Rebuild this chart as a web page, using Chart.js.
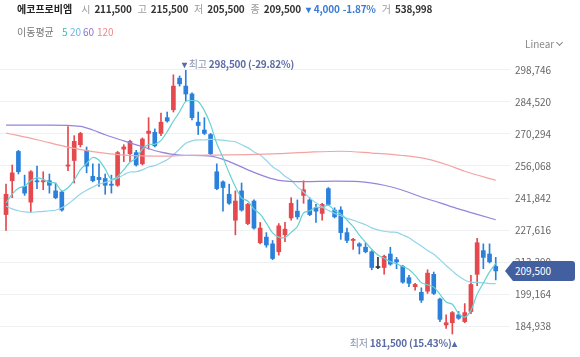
<!DOCTYPE html>
<html><head><meta charset="utf-8">
<script src="https://cdn.jsdelivr.net/npm/chart.js@4.4.0/dist/chart.umd.min.js"></script>
<style>
html,body{margin:0;padding:0;background:#fff;}
#wrap{position:relative;width:580px;height:357px;overflow:hidden;font-family:"Noto Sans CJK KR","Noto Sans",sans-serif;}
#c{position:absolute;left:0;top:0;}
.row{position:absolute;display:flex;white-space:nowrap;font-size:10px;line-height:14px;}
.t{position:absolute;white-space:nowrap;font-size:10px;line-height:14px;}
.g{color:#9a9a9a;margin-left:6px;margin-right:4px;}
.v{color:#333;font-weight:700;letter-spacing:-0.2px;}
.b{color:#3a7bd5;font-weight:700;letter-spacing:-0.2px;}
#tag{position:absolute;left:505px;width:70px;height:20px;background:#42609f;color:#fff;font-size:10px;line-height:20px;box-sizing:border-box;padding-left:10px;clip-path:polygon(0 50%,8px 0,100% 0,100% 100%,8px 100%);border-radius:0 3px 3px 0;}
.ann{position:absolute;white-space:nowrap;font-size:10px;line-height:14px;color:#5a6ba6;font-weight:700;letter-spacing:-0.2px;}
.ann .k{color:#8a93ad;font-weight:400;}
#chev{position:absolute;left:557px;top:40px;width:4px;height:4px;border-right:1px solid #888;border-bottom:1px solid #888;transform:rotate(45deg);}
</style></head>
<body>
<div id="wrap">
<canvas id="c" width="580" height="357"></canvas>
<div class="row" style="left:17px;top:2px">
<span style="color:#222;font-weight:700;margin-right:3px">에코프로비엠</span>
<span class="g">시</span><span class="v">211,500</span>
<span class="g">고</span><span class="v">215,500</span>
<span class="g">저</span><span class="v">205,500</span>
<span class="g">종</span><span class="v">209,500</span>
<span class="b" style="margin-left:5px;margin-right:3px">▾</span><span class="b">4,000</span><span class="b" style="margin-left:3px">-1.87%</span>
<span class="g">거</span><span class="v">538,998</span>
</div>
<span class="t" style="left:17px;top:25px;color:#777">이동평균</span>
<span class="t" style="left:62px;top:25px;color:#3fbfb5">5</span>
<span class="t" style="left:70px;top:25px;color:#6cb8e4">20</span>
<span class="t" style="left:83px;top:25px;color:#8a72d4">60</span>
<span class="t" style="left:97px;top:25px;color:#e98a8a">120</span>
<span class="t" style="left:525px;top:37px;color:#888">Linear</span><span id="chev"></span>
<div id="hi" class="ann">▾ <span class="k">최고</span> 298,500 (-29.82%)</div>
<div id="lo" class="ann"><span class="k">최저</span> 181,500 (15.43%)▴</div>
<div id="tag">209,500</div>
</div>
<script>
const opens  = [234500,249500,262500,247000,240000,249500,249000,249500,245000,244500,256000,258500,265500,263000,251500,251000,250500,248000,247500,263500,261500,262000,257000,270500,271000,270500,277500,281000,295000,291500,288000,275500,272000,270000,253500,249000,243500,232000,245000,230500,240500,222000,224500,221500,218000,225500,233000,236000,243000,241000,237500,235000,246000,236500,236500,226500,223000,221500,220000,218000,211000,211000,217000,214500,211500,206500,202500,200000,200500,208000,197000,185500,186500,190000,187000,191500,208000,218500,217000,211500];
const highs  = [248000,256500,263000,252000,254000,256000,253500,252500,248500,245000,273500,269500,271000,264500,257000,257000,252500,252000,262500,265500,267500,263000,268500,277500,272500,279500,280000,296500,296000,298500,288500,280000,277500,270500,257000,249500,248000,245000,248500,239500,241000,231000,226500,223000,230500,231000,242000,241000,249500,242000,239000,239500,246500,237500,238000,228500,224000,222000,222000,218500,215500,216500,220000,215500,212000,207500,204000,202000,210000,209000,197500,190000,191500,191500,195000,207500,224000,221500,221500,215500];
const lows   = [227500,242000,252500,243000,235500,246000,245500,244000,241500,236000,254000,248500,264500,253000,249000,247000,243500,244000,247000,258000,258000,256000,256500,263500,264500,269500,275500,280000,291500,285000,276500,270000,270000,261000,245500,236000,239000,225500,236000,230000,228000,221500,220000,214500,216500,222500,232000,232500,239500,234000,231000,232000,238500,233000,223500,222000,219000,217000,217500,210000,210500,208000,212000,210500,204000,202500,201000,195500,199500,199000,187000,184000,181500,188000,186500,190500,203000,210500,213000,205500];
const closes = [243500,253000,253500,244000,253500,249000,249500,247500,242000,236500,256500,267000,270500,256000,249500,250000,247500,247500,262000,264500,267000,256500,268000,271500,265000,275500,276000,291500,292500,288000,277500,274000,270500,261500,246000,246500,239500,240500,236500,239000,228500,228500,221000,215000,229500,228000,239500,233500,245500,234500,236000,239000,239000,233500,226500,223000,223500,220500,218000,211000,211000,216000,212500,213500,204500,204000,203500,196500,208500,199500,188000,186500,191000,188500,191000,203500,222000,215500,213500,209500];
const ma5  = [239700,243600,246200,247100,249600,250800,250100,248800,248400,245000,246400,249800,254400,257200,259800,258600,254700,250200,251400,254400,257700,259500,263600,265600,265700,267400,271300,275900,280100,284700,285100,284700,280600,274400,266000,259800,252900,246800,241800,240500,236900,234700,230700,226400,224500,224300,226600,229200,235200,236200,237800,237600,238700,236300,234800,232100,229100,225400,222200,219100,216600,215100,213600,212700,211500,210100,207500,204300,203300,202300,199100,195700,194700,190600,189000,192000,199200,204100,209100,212800];
const ma20 = [238300,237000,236200,235700,235500,235700,235900,236200,236400,237500,239200,241400,243600,245300,246700,248000,248800,249700,250600,252200,253400,253500,254300,255600,256200,257500,258800,261000,263600,266100,267200,267600,267600,267900,267700,267500,267100,266800,265500,264200,262300,260900,258500,255700,253900,251500,249700,246800,244500,241800,239700,237900,236400,235000,234000,232800,232000,231000,230000,228600,227700,227100,226700,226600,225400,224200,222300,220500,218600,216900,214500,211900,209500,207200,205500,204500,204400,204200,203900,203900];
const ma60Idx = [0,7,12,14,16,19,22,25,28,33,36,40,44,48,53,57,61,64,67,70,73,76,79];
const ma60 = [274200,274200,273600,272000,269900,267200,264600,262200,260900,260400,258000,253200,249700,249100,249300,249100,247500,245300,242300,239700,237000,234600,232200];
const ma120Idx = [0,5,10,14,19,24,29,34,39,44,49,54,59,64,68,71,74,79];
const ma120 = [270700,267700,264400,262400,260900,260400,260700,260900,261100,261500,262200,262600,261800,260700,259100,256700,253700,249700];
const yTicks = [184938,199164,213390,227616,241842,256068,270294,284520,298746];
const HIGH_IDX = 29, HIGH_VAL = 298500, LOW_IDX = 72, LOW_VAL = 181500, LAST_VAL = 209500;

const UP = '#e5484d', DOWN = '#2b80dc', FLAT = '#333333';
const candleColor = closes.map((c, i) => c > opens[i] ? UP : (c < opens[i] ? DOWN : FLAT));
const idx = closes.map((_, i) => i);

Chart.defaults.font.family = "'Noto Sans CJK KR','Noto Sans',sans-serif";
Chart.defaults.font.size = 10;
Chart.defaults.color = '#666';

const chart = new Chart(document.getElementById('c'), {
  type: 'bar',
  data: {
    datasets: [
      { type: 'line', data: ma120Idx.map((x, k) => ({x, y: ma120[k]})), borderColor: '#f4a3a3', borderWidth: 1.2, pointRadius: 0, cubicInterpolationMode: 'monotone', order: 1 },
      { type: 'line', data: ma60Idx.map((x, k) => ({x, y: ma60[k]})), borderColor: '#9684dc', borderWidth: 1.2, pointRadius: 0, cubicInterpolationMode: 'monotone', order: 1 },
      { type: 'line', data: idx.map(i => ({x: i, y: ma20[i]})), borderColor: '#93d5e8', borderWidth: 1.2, pointRadius: 0, tension: 0.3, order: 1 },
      { type: 'line', data: idx.map(i => ({x: i, y: ma5[i]})), borderColor: '#66d1d3', borderWidth: 1.2, pointRadius: 0, tension: 0.3, order: 0 },
      { data: idx.map(i => ({x: i, y: [lows[i], highs[i]]})), backgroundColor: candleColor, barThickness: 1, grouped: false, order: 3 },
      { data: idx.map(i => ({x: i, y: [opens[i], closes[i]]})), backgroundColor: candleColor, barThickness: 4, minBarLength: 1, grouped: false, order: 2 }
    ]
  },
  options: {
    responsive: false,
    animation: false,
    devicePixelRatio: 1,
    layout: { padding: { top: 52, bottom: 7, left: 0, right: 0 } },
    plugins: { legend: { display: false }, tooltip: { enabled: false } },
    scales: {
      x: { type: 'linear', min: -0.97, max: 81.3, display: false, offset: false },
      y: {
        position: 'right', min: 176184, max: 306625,
        afterBuildTicks: s => { s.ticks = yTicks.map(v => ({value: v})); },
        afterFit: s => { s.width = 70; },
        ticks: { padding: 5, color: '#666', font: { size: 10 }, callback: v => Number(v).toLocaleString('en-US') },
        grid: { color: '#eef0f2', drawTicks: false },
        border: { display: false }
      }
    }
  }
});

const xs = chart.scales.x, ys = chart.scales.y;
const hi = document.getElementById('hi');
hi.style.left = (xs.getPixelForValue(HIGH_IDX) - 4) + 'px';
hi.style.top = (ys.getPixelForValue(HIGH_VAL) - 13) + 'px';
const lo = document.getElementById('lo');
lo.style.left = (xs.getPixelForValue(LOW_IDX) + 4) + 'px';
lo.style.transform = 'translateX(-100%)';
lo.style.top = (ys.getPixelForValue(LOW_VAL) + 2) + 'px';
const tag = document.getElementById('tag');
tag.style.top = (ys.getPixelForValue(LAST_VAL) - 10) + 'px';
</script>
</body></html>
